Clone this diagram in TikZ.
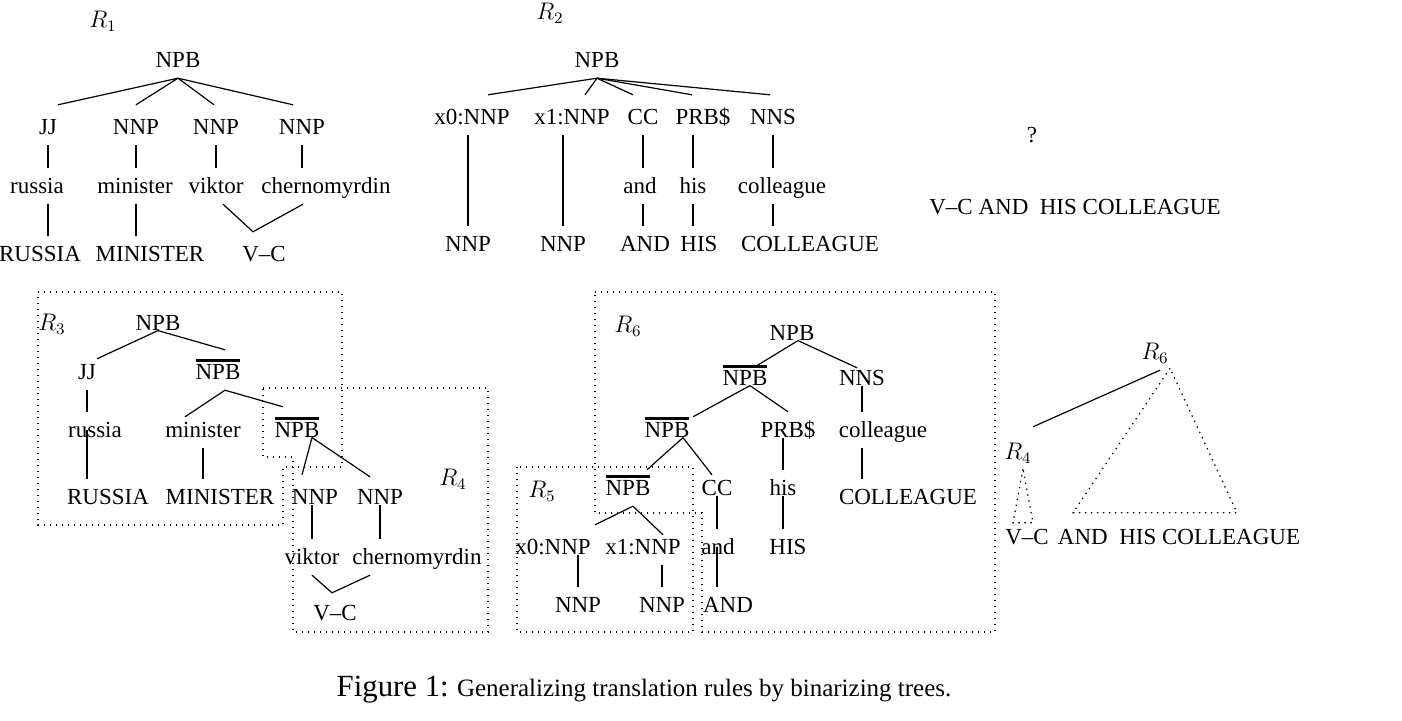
\documentclass[tikz,border=0pt]{standalone}
\usepackage{fontspec}
\setmainfont{Liberation Serif}
\newlength\barw
\newcommand{\npbbar}{\settowidth{\barw}{NPB}\rlap{\rule[9pt]{\barw}{1.3pt}}NPB}
\tikzset{
  lab/.style={font=\fontsize{11.5}{14}\selectfont, text height=7.6pt, text depth=0pt,
    inner xsep=1pt, inner ysep=5pt},
  rbox/.style={line width=0.6pt, dash pattern=on 0.7pt off 2.3pt},
}
\begin{document}
\begin{tikzpicture}[x=0.5pt, y=-0.5pt, line width=0.6pt]
  \useasboundingbox (0,0) rectangle (1402,721);
  % R1
  \node[lab] (aR) at (103,20) {$R_1$};
  \node[lab] (aNPB) at (178,60) {NPB};
  \node[lab] (aJJ) at (48,127) {JJ};
  \node[lab] (aN1) at (136,127) {NNP};
  \node[lab] (aN2) at (216,127) {NNP};
  \node[lab] (aN3) at (302,127) {NNP};
  \node[lab] (aw1) at (37,186) {russia};
  \node[lab] (aw2) at (135,186) {minister};
  \node[lab] (aw3) at (216,186) {viktor};
  \node[lab] (aw4) at (326,186) {chernomyrdin};
  \node[lab] (ae1) at (40,254) {RUSSIA};
  \node[lab] (ae2) at (150,254) {MINISTER};
  \node[lab] (ae3) at (264,254) {V--C};
  \draw (aNPB.south) -- ([shift={(10,-4)}]aJJ.north);
  \draw (aNPB.south) -- ([shift={(0,-4)}]aN1.north);
  \draw (aNPB.south) -- ([shift={(-2,-4)}]aN2.north);
  \draw (aNPB.south) -- ([shift={(-9,-4)}]aN3.north);
  \draw (aJJ.south) -- (aJJ.south |- aw1.north);
  \draw (aJJ.south |- aw1.south) -- (aJJ.south |- ae1.north);
  \draw (aN1.south) -- (aN1.south |- aw2.north);
  \draw (aN1.south |- aw2.south) -- (aN1.south |- ae2.north);
  \draw (aN2.south) -- (aN2.south |- aw3.north);
  \draw (aN3.south) -- (aN3.south |- aw4.north);
  \draw ([shift={(7,0)}]aw3.south) -- ([shift={(-11,-4)}]ae3.north) -- ([shift={(-23,0)}]aw4.south);

  % R2
  \node[lab] (bR) at (550,12) {$R_2$};
  \node[lab] (bNPB) at (597,60) {NPB};
  \node[lab] (bx0) at (472,117) {x0:NNP};
  \node[lab] (bx1) at (572,117) {x1:NNP};
  \node[lab] (bCC) at (643,117) {CC};
  \node[lab] (bPRB) at (703,117) {PRB\$};
  \node[lab] (bNNS) at (773,117) {NNS};
  \node[lab] (bw1) at (640,186) {and};
  \node[lab] (bw2) at (693,186) {his};
  \node[lab] (bw3) at (782,186) {colleague};
  \node[lab] (be0) at (468,244) {NNP};
  \node[lab] (be1) at (563,244) {NNP};
  \node[lab] (be2) at (645,244) {AND};
  \node[lab] (be3) at (699,244) {HIS};
  \node[lab] (be4) at (810,244) {COLLEAGUE};
  \draw (bNPB.south) -- ([shift={(16,-4)}]bx0.north);
  \draw (bNPB.south) -- ([shift={(13,-4)}]bx1.north);
  \draw (bNPB.south) -- ([shift={(-10,-4)}]bCC.north);
  \draw (bNPB.south) -- ([shift={(-11,-4)}]bPRB.north);
  \draw (bNPB.south) -- ([shift={(-3,-4)}]bNNS.north);
  \draw (be0.north |- bx0.south) -- (be0.north);
  \draw (be1.north |- bx1.south) -- (be1.north);
  \draw (bCC.south) -- (bCC.south |- bw1.north);
  \draw (bCC.south |- bw1.south) -- (bCC.south |- be2.north);
  \draw (bw2.north |- bPRB.south) -- (bw2.north);
  \draw (bw2.south) -- (bw2.south |- be3.north);
  \draw (bNNS.south) -- (bNNS.south |- bw3.north);
  \draw (bNNS.south |- bw3.south) -- (bNNS.south |- be4.north);

  \node[lab] (q) at (1032,135) {?};
  \node[lab] (sent) at (1075,207) {V--C AND\ \ HIS COLLEAGUE};

  % R3 and R4
  \node[lab] (cR) at (52,323) {$R_3$};
  \node[lab] (cNPB) at (158,323) {NPB};
  \node[lab] (cJJ) at (87,372) {JJ};
  \node[lab] (cB1) at (218,372) {\npbbar};
  \node[lab] (cw1) at (95,430) {russia};
  \node[lab] (cw2) at (203,430) {minister};
  \node[lab] (cB2) at (297,430) {\npbbar};
  \node[lab] (ce1) at (108,497) {RUSSIA};
  \node[lab] (ce2) at (220,497) {MINISTER};
  \node[lab] (cR4) at (453,478) {$R_4$};
  \node[lab] (cn1) at (315,497) {NNP};
  \node[lab] (cn2) at (380,497) {NNP};
  \node[lab] (cv) at (312,557) {viktor};
  \node[lab] (cc) at (417,557) {chernomyrdin};
  \node[lab] (cvc) at (335,613) {V--C};
  \draw (cNPB.base) -- ([shift={(10,5)}]cJJ.north);
  \draw (cNPB.base) -- ([shift={(7,-4)}]cB1.north);
  \draw (cJJ.south) -- (cJJ.south |- cw1.north);
  \draw (cJJ.south |- cw1.center) -- (cJJ.south |- ce1.north);
  \draw ([shift={(7,0)}]cB1.south) -- ([shift={(-18,5)}]cw2.north);
  \draw ([shift={(7,0)}]cB1.south) -- ([shift={(-14,-5)}]cB2.north);
  \draw (cw2.south) -- (cw2.south |- ce2.north);
  \draw ([shift={(15,0)}]cB2.base) -- ([shift={(-13,-4)}]cn1.north);
  \draw ([shift={(15,0)}]cB2.base) -- ([shift={(-10,-2)}]cn2.north);
  \draw (cv.north |- cn1.base) -- (cv.north);
  \draw (cn2.base) -- (cn2.base |- cc.north);
  \draw (cv.south) -- ([shift={(-3,-2)}]cvc.north) -- ([shift={(-47,0)}]cc.south);
  \draw[rbox] (38,292) -- (342,292) -- (342,467) -- (283,467) -- (283,525) -- (38,525) -- cycle;
  \draw[rbox] (263,388) -- (488,388) -- (488,632) -- (293,632) -- (293,457) -- (263,457) -- cycle;

  % R5 and R6
  \node[lab] (dR6) at (628,325) {$R_6$};
  \node[lab] (dNPB) at (792,333) {NPB};
  \node[lab] (dB1) at (745,378) {\npbbar};
  \node[lab] (dNNS) at (862,378) {NNS};
  \node[lab] (dB2) at (667,430) {\npbbar};
  \node[lab] (dPRB) at (788,430) {PRB\$};
  \node[lab] (dw3) at (883,430) {colleague};
  \node[lab] (dR5) at (542,490) {$R_5$};
  \node[lab] (dB3) at (628,488) {\npbbar};
  \node[lab] (dCC) at (717,488) {CC};
  \node[lab] (dhis) at (783,488) {his};
  \node[lab] (dCOL) at (908,497) {COLLEAGUE};
  \node[lab] (dx0) at (553,547) {x0:NNP};
  \node[lab] (dx1) at (643,547) {x1:NNP};
  \node[lab] (dand) at (718,547) {and};
  \node[lab] (dHIS) at (788,547) {HIS};
  \node[lab] (de0) at (578,605) {NNP};
  \node[lab] (de1) at (662,605) {NNP};
  \node[lab] (dAND) at (728,605) {AND};
  \draw ([shift={(6,0)}]dNPB.base) -- ([shift={(10,7)}]dB1.north);
  \draw ([shift={(6,0)}]dNPB.base) -- ([shift={(-5,8)}]dNNS.north);
  \draw ([shift={(5,0)}]dB1.base) -- ([shift={(26,5)}]dB2.north);
  \draw ([shift={(5,0)}]dB1.base) -- (dPRB.north);
  \draw (dNNS.base) -- (dNNS.base |- dw3.north);
  \draw (dNNS.base |- dw3.south) -- (dNNS.base |- dCOL.north);
  \draw ([shift={(16,0)}]dB2.base) -- ([shift={(19,0)}]dB3.north);
  \draw ([shift={(16,0)}]dB2.base) -- ([shift={(-5,5)}]dCC.north);
  \draw (dhis.north |- dPRB.base) -- (dhis.north);
  \draw (dhis.base) -- (dhis.base |- dHIS.north);
  \draw (dCC.base) -- (dCC.base |- dand.north);
  \draw (dCC.base |- dand.center) -- (dCC.base |- dAND.north);
  \draw ([shift={(5,0)}]dB3.south) -- ([shift={(42,-4)}]dx0.north);
  \draw ([shift={(5,0)}]dB3.south) -- ([shift={(20,6)}]dx1.north);
  \draw (de0.north |- dx0.base) -- (de0.north);
  \draw (de1.north |- dx1.south) -- (de1.north);
  \draw[rbox] (595,292) -- (995,292) -- (995,632) -- (702,632) -- (702,513) -- (595,513) -- cycle;
  \draw[rbox] (517,467) rectangle (693,632);

  % composed rule
  \node[lab] (eR6) at (1155,352) {$R_6$};
  \node[lab] (eR4) at (1018,452) {$R_4$};
  \node[lab] (eVC) at (1027,537) {V--C};
  \node[lab] (eRest) at (1179,537) {AND\ \ HIS COLLEAGUE};
  \draw ([shift={(5,0)}]eR6.south) -- ([shift={(15,-7)}]eR4.north);
  \draw[rbox] ([shift={(15,-2)}]eR6.south) -- ([shift={(-106,-6)}]eRest.north)
    -- ([shift={(58,-6)}]eRest.north) -- cycle;
  \draw[rbox] ([shift={(5,-1)}]eR4.south) -- ([shift={(-14,4)}]eVC.north)
    -- ([shift={(6,4)}]eVC.north) -- cycle;

  \node[font=\fontsize{12.5}{15}\selectfont] (cap) at (644,690)
    {{\fontsize{15.4}{18}\selectfont Figure 1:} Generalizing translation rules by binarizing trees.};
\end{tikzpicture}
\end{document}
